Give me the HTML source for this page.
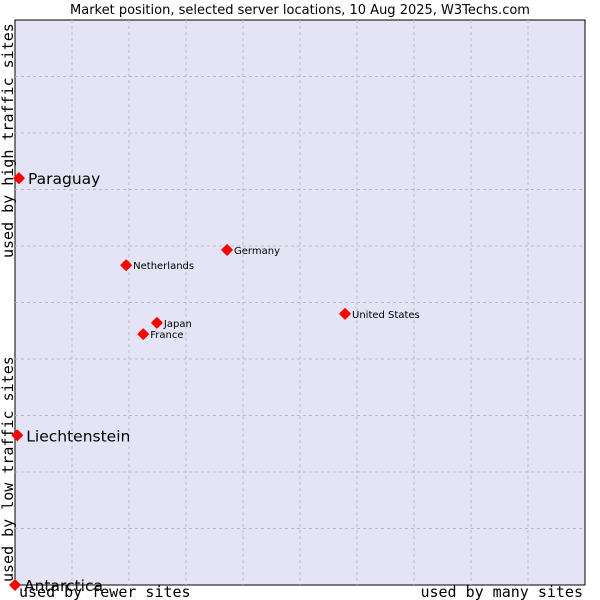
<!DOCTYPE html>
<html><head><meta charset="utf-8"><style>
body{margin:0;background:#fff;width:600px;height:600px;overflow:hidden}
svg{display:block}
</style></head><body>
<svg id="chart" width="600" height="600" xmlns="http://www.w3.org/2000/svg">
<text x="300" y="14" text-anchor="middle" font-family="DejaVu Sans, sans-serif" font-size="13" fill="#000">Market position, selected server locations, 10 Aug 2025, W3Techs.com</text>
<rect x="15" y="20" width="570" height="565" fill="#e4e4f6" stroke="#000" stroke-width="1"/>
<g id="grid"></g>
<g id="points"></g>
<text x="19" y="597" font-family="DejaVu Sans Mono, monospace" font-size="15" fill="#000">used by fewer sites</text>
<text x="583" y="597" text-anchor="end" font-family="DejaVu Sans Mono, monospace" font-size="15" fill="#000">used by many sites</text>
<text transform="translate(13,582) rotate(-90)" font-family="DejaVu Sans Mono, monospace" font-size="15" fill="#000">used by low traffic sites</text>
<text transform="translate(13,258) rotate(-90)" font-family="DejaVu Sans Mono, monospace" font-size="15" fill="#000">used by high traffic sites</text>
</svg>
<script>
const names = ["Paraguay","Liechtenstein","Antarctica","Netherlands","Germany","United States","Japan","France"];
const xValues = [0.7,0.4,0,19.5,37.2,57.9,24.9,22.5];
const yValues = [72,26.5,0,56.6,59.3,48,46.4,44.4];
const bigLabel = [true,true,true,false,false,false,false,false];
const L=15,T=20,W=570,H=565;
function xs(v){return L+v/100*W;}
function ys(v){return T+H-v/100*H;}
const NS="http://www.w3.org/2000/svg";
const grid=document.getElementById('grid');
for(let i=1;i<10;i++){
  const v=document.createElementNS(NS,'line');
  
  
  v.setAttribute('x1',xs(i*10));v.setAttribute('x2',xs(i*10));
  v.setAttribute('y1',T);v.setAttribute('y2',T+H);
  v.setAttribute('stroke','#bbb');v.setAttribute('stroke-dasharray','3,3');
  grid.appendChild(v);
  const h=document.createElementNS(NS,'line');
  
  
  h.setAttribute('y1',ys(i*10));h.setAttribute('y2',ys(i*10));
  h.setAttribute('x1',L);h.setAttribute('x2',L+W);
  h.setAttribute('stroke','#bbb');h.setAttribute('stroke-dasharray','3,3');
  grid.appendChild(h);
}
const pts=document.getElementById('points');
names.forEach((n,i)=>{
  const cx=xs(xValues[i]),cy=ys(yValues[i]);
  const d=document.createElementNS(NS,'path');
  
  
  d.setAttribute('d',`M${cx-5},${cy}L${cx},${cy-5}L${cx+5},${cy}L${cx},${cy+5}Z`);
  d.setAttribute('fill','#f00');
  d.setAttribute('stroke','#f00');
  d.setAttribute('stroke-linejoin','round');
  d.setAttribute('stroke-width','1.5');
  pts.appendChild(d);
  const t=document.createElementNS(NS,'text');
  
  
  t.setAttribute('font-family','DejaVu Sans, sans-serif');
  if(bigLabel[i]){t.setAttribute('font-size','15.5');t.setAttribute('x',cx+9);t.setAttribute('y',cy+6);}
  else{t.setAttribute('font-size','10');t.setAttribute('x',cx+7);t.setAttribute('y',cy+4);}
  t.textContent=n;
  pts.appendChild(t);
});
</script>
</body></html>
